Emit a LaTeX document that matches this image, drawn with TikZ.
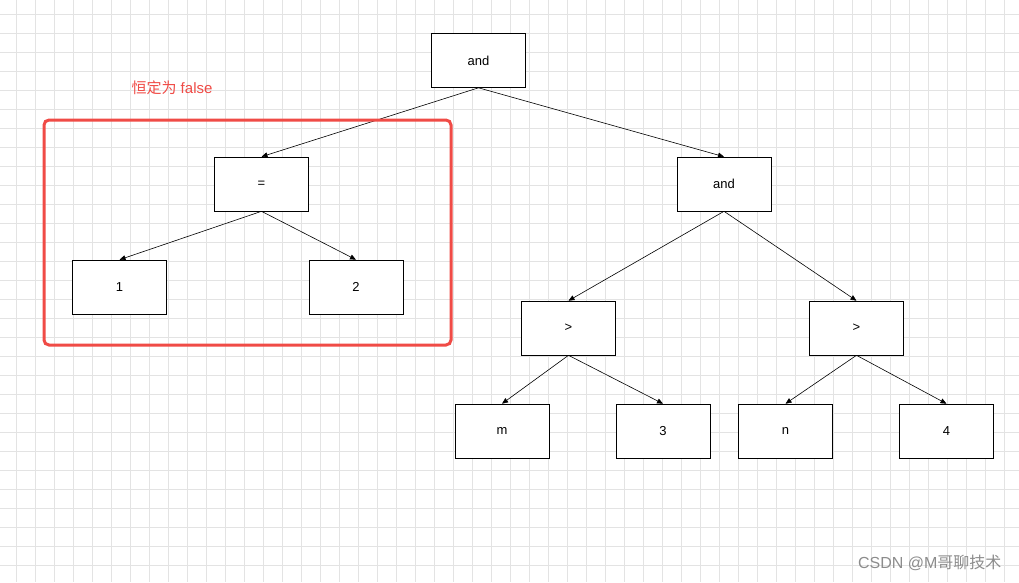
\documentclass[tikz,border=0pt]{standalone}
\usepackage{fontspec}
\setmainfont{Liberation Sans}
\newfontfamily\cjk{Noto Sans CJK SC}
\usetikzlibrary{arrows.meta}
\begin{document}
\begin{tikzpicture}[x=1pt,y=-1pt,
  box/.style={draw=black,line width=0.6pt,minimum width=94pt,minimum height=54pt,inner sep=0pt,font=\fontsize{13}{15}\selectfont,fill=white},
  edge/.style={line width=0.6pt,-{Triangle[length=6pt,width=5pt]}}]
\useasboundingbox (0,0) rectangle (1019,582);
\fill[white] (0,0) rectangle (1019,582);
\foreach \i in {0,...,54} {\draw[black!11,line width=0.6pt] (-3+19*\i,0) -- (-3+19*\i,582);}
\foreach \j in {0,...,31} {\draw[black!11,line width=0.6pt] (0,-5+19*\j) -- (1019,-5+19*\j);}
\node[box] (a) at (478.5,60.5) {and};
\node[box] (eq) at (261.5,184) {=};
\node[box] (one) at (119.5,287) {1};
\node[box] (two) at (356,287) {2};
\node[box] (b) at (724,184) {and};
\node[box] (g1) at (568.5,328) {>};
\node[box] (g2) at (856.5,328) {>};
\node[box] (m) at (502,431) {m};
\node[box] (three) at (663,431) {3};
\node[box] (n) at (785.5,431) {n};
\node[box] (four) at (946.5,431) {4};
\draw[edge] (a.south) -- (eq.north);
\draw[edge] (a.south) -- (b.north);
\draw[edge] (eq.south) -- (one.north);
\draw[edge] (eq.south) -- (two.north);
\draw[edge] (b.south) -- (g1.north);
\draw[edge] (b.south) -- (g2.north);
\draw[edge] (g1.south) -- (m.north);
\draw[edge] (g1.south) -- (three.north);
\draw[edge] (g2.south) -- (n.north);
\draw[edge] (g2.south) -- (four.north);
\draw[color={rgb,255:red,240;green,75;blue,70},line width=3pt,rounded corners=5pt] (44,120) rectangle (451,345);
\node[text={rgb,255:red,240;green,75;blue,70},font=\fontsize{15}{17}\selectfont] (lbl) at (172,88) {{\cjk 恒定为} false};
\node[text=black!45,font=\fontsize{16}{18}\selectfont,anchor=east] (wm) at (1005,563) {CSDN @M{\cjk 哥聊技术}};
\end{tikzpicture}
\end{document}
